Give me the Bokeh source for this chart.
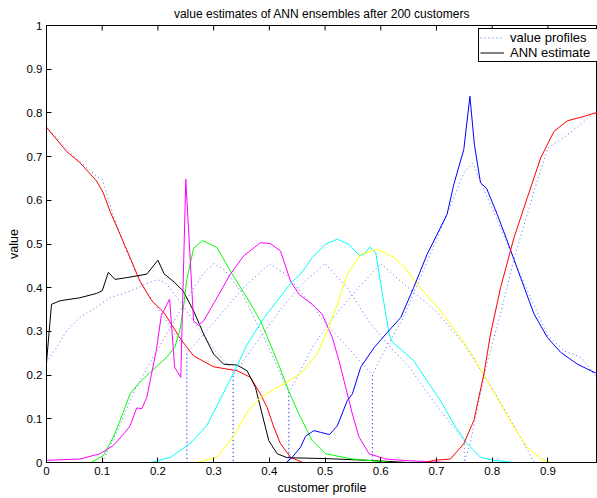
import math
from bokeh.plotting import figure
from bokeh.models import Range1d, FixedTicker, Legend, LegendItem, Title
from bokeh.embed import file_html
from bokeh.resources import INLINE

# ---------------- data ----------------
title_text = "value estimates of ANN ensembles after 200 customers"
x_label_text = "customer profile"
y_label_text = "value"
legend_labels = ["value profiles", "ANN estimate"]

x_ticks = [0, 0.1, 0.2, 0.3, 0.4, 0.5, 0.6, 0.7, 0.8, 0.9]
x_tick_labels = ["0", "0.1", "0.2", "0.3", "0.4", "0.5", "0.6", "0.7", "0.8", "0.9"]
y_ticks = [0, 0.1, 0.2, 0.3, 0.4, 0.5, 0.6, 0.7, 0.8, 0.9, 1.0]
y_tick_labels = ["0", "0.1", "0.2", "0.3", "0.4", "0.5", "0.6", "0.7", "0.8", "0.9", "1"]

# value profiles (dotted)
prof_red_x = [0, 0.05, 0.09, 0.1, 0.12, 0.141, 0.156, 0.17, 0.19, 0.21, 0.23, 0.252, 0.252, 0.99]
prof_red_y = [0.767, 0.7, 0.655, 0.648, 0.565, 0.492, 0.446, 0.41, 0.37, 0.335, 0.295, 0.256, 0, 0]
prof_black_x = [0, 0.018, 0.036, 0.06, 0.084, 0.114, 0.15, 0.18, 0.2, 0.215, 0.23, 0.25, 0.27, 0.3, 0.335, 0.335, 0.99]
prof_black_y = [0.229, 0.263, 0.301, 0.332, 0.351, 0.377, 0.392, 0.41, 0.418, 0.41, 0.385, 0.35, 0.31, 0.26, 0.21, 0, 0]
prof_green_x = [0, 0.1, 0.13, 0.16, 0.2, 0.25, 0.28, 0.3, 0.32, 0.35, 0.4, 0.435, 0.435, 0.99]
prof_green_y = [0, 0, 0.08, 0.17, 0.26, 0.37, 0.43, 0.455, 0.44, 0.39, 0.26, 0.16, 0, 0]
prof_magenta_x = [0, 0.252, 0.252, 0.3, 0.35, 0.4, 0.43, 0.47, 0.5, 0.55, 0.585, 0.585, 0.99]
prof_magenta_y = [0, 0, 0.25, 0.32, 0.395, 0.455, 0.43, 0.37, 0.32, 0.25, 0.2, 0, 0]
prof_cyan_x = [0, 0.335, 0.335, 0.38, 0.42, 0.46, 0.5, 0.54, 0.58, 0.62, 0.65, 0.7, 0.75, 0.75, 0.99]
prof_cyan_y = [0, 0, 0.2, 0.28, 0.35, 0.41, 0.455, 0.4, 0.32, 0.26, 0.22, 0.13, 0.05, 0, 0]
prof_yellow_x = [0, 0.435, 0.435, 0.48, 0.52, 0.56, 0.6, 0.64, 0.7, 0.75, 0.8, 0.85, 0.875, 0.99]
prof_yellow_y = [0, 0, 0.16, 0.27, 0.34, 0.4, 0.455, 0.41, 0.345, 0.27, 0.17, 0.06, 0, 0]
prof_blue_x = [0, 0.585, 0.585, 0.6, 0.64, 0.7, 0.75, 0.765, 0.78, 0.815, 0.845, 0.875, 0.9, 0.93, 0.96, 0.99]
prof_blue_y = [0, 0, 0.2, 0.24, 0.33, 0.51, 0.665, 0.685, 0.64, 0.537, 0.446, 0.36, 0.29, 0.255, 0.24, 0.19]
prof_red2_x = [0, 0.75, 0.76, 0.79, 0.815, 0.84, 0.875, 0.9, 0.935, 0.965, 0.99]
prof_red2_y = [0, 0, 0.04, 0.225, 0.34, 0.47, 0.62, 0.72, 0.75, 0.78, 0.808]

# ANN estimates (solid)
red_left_x = [0, 0.036, 0.06, 0.09, 0.102, 0.114, 0.132, 0.15, 0.168, 0.189, 0.211, 0.241, 0.264, 0.3, 0.342, 0.366, 0.384, 0.396, 0.408, 0.42, 0.438, 0.46, 0.99]
red_left_y = [0.767, 0.712, 0.686, 0.644, 0.617, 0.575, 0.522, 0.469, 0.414, 0.37, 0.343, 0.282, 0.244, 0.219, 0.21, 0.195, 0.157, 0.126, 0.081, 0.043, 0.012, 0.0, 0.0]
black_x = [0, 0.009, 0.024, 0.06, 0.09, 0.1, 0.111, 0.123, 0.144, 0.18, 0.2, 0.211, 0.23, 0.245, 0.264, 0.282, 0.3, 0.318, 0.342, 0.36, 0.375, 0.387, 0.399, 0.414, 0.432, 0.5, 0.576, 0.65, 0.99]
black_y = [0.229, 0.362, 0.37, 0.377, 0.387, 0.393, 0.435, 0.419, 0.423, 0.431, 0.463, 0.432, 0.412, 0.393, 0.347, 0.294, 0.248, 0.225, 0.223, 0.21, 0.172, 0.111, 0.05, 0.02, 0.011, 0.009, 0.005, 0.0, 0.0]
green_x = [0, 0.08, 0.102, 0.12, 0.132, 0.15, 0.162, 0.18, 0.197, 0.215, 0.23, 0.239, 0.245, 0.252, 0.264, 0.28, 0.306, 0.33, 0.36, 0.384, 0.414, 0.436, 0.453, 0.477, 0.501, 0.549, 0.62, 0.99]
green_y = [0, 0, 0.016, 0.058, 0.096, 0.157, 0.176, 0.199, 0.219, 0.24, 0.263, 0.30, 0.347, 0.42, 0.49, 0.508, 0.492, 0.438, 0.377, 0.324, 0.233, 0.16, 0.111, 0.05, 0.02, 0.008, 0, 0]
magenta_x = [0, 0.06, 0.096, 0.12, 0.141, 0.15, 0.162, 0.171, 0.18, 0.197, 0.206, 0.221, 0.23, 0.241, 0.25, 0.264, 0.273, 0.282, 0.306, 0.33, 0.354, 0.384, 0.402, 0.42, 0.438, 0.453, 0.477, 0.495, 0.513, 0.525, 0.537, 0.549, 0.561, 0.579, 0.609, 0.65, 0.72, 0.99]
magenta_y = [0.005, 0.008, 0.02, 0.039, 0.069, 0.084, 0.125, 0.123, 0.149, 0.256, 0.336, 0.374, 0.218, 0.195, 0.648, 0.324, 0.314, 0.324, 0.377, 0.431, 0.473, 0.503, 0.501, 0.484, 0.415, 0.385, 0.362, 0.339, 0.286, 0.233, 0.172, 0.111, 0.058, 0.02, 0.008, 0.004, 0, 0]
cyan_x = [0, 0.187, 0.223, 0.259, 0.288, 0.312, 0.336, 0.36, 0.39, 0.414, 0.438, 0.456, 0.477, 0.501, 0.522, 0.543, 0.561, 0.57, 0.58, 0.591, 0.603, 0.615, 0.621, 0.639, 0.659, 0.683, 0.707, 0.731, 0.755, 0.779, 0.803, 0.84, 0.99]
cyan_y = [0, 0, 0.012, 0.045, 0.085, 0.145, 0.205, 0.27, 0.33, 0.37, 0.41, 0.431, 0.469, 0.5, 0.511, 0.499, 0.474, 0.476, 0.493, 0.48, 0.385, 0.294, 0.275, 0.256, 0.233, 0.187, 0.142, 0.088, 0.043, 0.012, 0.005, 0, 0]
yellow_x = [0, 0.27, 0.306, 0.336, 0.36, 0.384, 0.426, 0.456, 0.486, 0.504, 0.522, 0.54, 0.564, 0.594, 0.624, 0.645, 0.671, 0.707, 0.743, 0.767, 0.791, 0.815, 0.839, 0.863, 0.887, 0.905, 0.99]
yellow_y = [0, 0, 0.012, 0.06, 0.115, 0.149, 0.18, 0.203, 0.248, 0.301, 0.362, 0.431, 0.476, 0.488, 0.469, 0.443, 0.4, 0.347, 0.286, 0.24, 0.187, 0.134, 0.081, 0.035, 0.008, 0, 0]
blue_x = [0, 0.43, 0.441, 0.456, 0.465, 0.48, 0.492, 0.508, 0.522, 0.54, 0.549, 0.564, 0.588, 0.612, 0.636, 0.659, 0.683, 0.707, 0.719, 0.731, 0.749, 0.76, 0.768, 0.779, 0.79, 0.809, 0.827, 0.851, 0.875, 0.899, 0.923, 0.953, 0.99]
blue_y = [0, 0, 0.012, 0.035, 0.06, 0.073, 0.069, 0.064, 0.084, 0.142, 0.157, 0.218, 0.263, 0.298, 0.332, 0.4, 0.476, 0.537, 0.568, 0.636, 0.716, 0.838, 0.728, 0.64, 0.627, 0.568, 0.507, 0.423, 0.34, 0.286, 0.252, 0.225, 0.202]
red_right_x = [0, 0.68, 0.695, 0.725, 0.749, 0.767, 0.785, 0.797, 0.815, 0.839, 0.863, 0.887, 0.911, 0.935, 0.965, 0.99]
red_right_y = [0, 0, 0.005, 0.008, 0.043, 0.096, 0.202, 0.294, 0.4, 0.514, 0.606, 0.697, 0.758, 0.782, 0.792, 0.802]

# ---------------- figure ----------------
FONT = "Liberation Sans"

p = figure(width=597, height=498, output_backend="svg", toolbar_location=None,
           x_range=Range1d(0, 0.989), y_range=Range1d(0, 1),
           min_border_left=46, min_border_right=0, min_border_top=24, min_border_bottom=36,
           background_fill_color="white", border_fill_color="white")
p.title = Title(text=title_text, align="center", offset=4, standoff=9,
                text_font=FONT, text_font_size="12px", text_font_style="normal",
                text_color="black")
p.outline_line_color = "black"
p.outline_line_width = 1
p.xgrid.visible = False
p.ygrid.visible = False

xa = p.xaxis[0]
xa.ticker = FixedTicker(ticks=x_ticks)
xa.major_label_overrides = {t: l for t, l in zip(x_ticks, x_tick_labels)}
xa.major_tick_in = 5
xa.major_tick_out = 0
xa.minor_tick_in = 0
xa.minor_tick_out = 0
xa.major_label_standoff = 4
xa.major_label_text_font = FONT
xa.major_label_text_font_size = "11.5px"
xa.major_label_text_color = "black"
xa.axis_line_color = "black"
xa.axis_label = x_label_text
xa.axis_label_standoff = 3
xa.axis_label_text_font = FONT
xa.axis_label_text_font_size = "12.5px"
xa.axis_label_text_font_style = "normal"
xa.axis_label_text_color = "black"

ya = p.yaxis[0]
ya.ticker = FixedTicker(ticks=y_ticks)
ya.major_label_overrides = {t: l for t, l in zip(y_ticks, y_tick_labels)}
ya.major_tick_in = 5
ya.major_tick_out = 0
ya.minor_tick_in = 0
ya.minor_tick_out = 0
ya.major_label_standoff = 4
ya.major_label_text_font = FONT
ya.major_label_text_font_size = "11.5px"
ya.major_label_text_color = "black"
ya.axis_label = y_label_text
ya.axis_label_standoff = 3
ya.axis_label_text_font = FONT
ya.axis_label_text_font_size = "12.5px"
ya.axis_label_text_font_style = "normal"
ya.axis_label_text_color = "black"

# inward ticks along the top edge of the box (MATLAB style)
p.ray(x=x_ticks, y=[1.0] * len(x_ticks), length=5, length_units="screen",
      angle=-math.pi / 2, line_color="black", line_width=1)

# dotted value profiles
dot_kw = dict(line_color="#0000ff", line_alpha=0.6, line_width=1, line_dash="1 3")
profiles = [(prof_red_x, prof_red_y), (prof_black_x, prof_black_y), (prof_green_x, prof_green_y),
            (prof_magenta_x, prof_magenta_y), (prof_cyan_x, prof_cyan_y), (prof_yellow_x, prof_yellow_y),
            (prof_blue_x, prof_blue_y), (prof_red2_x, prof_red2_y)]
prof_renderers = [p.line(px, py, **dot_kw) for px, py in profiles]

# ANN estimates
estimates = [(red_left_x, red_left_y, "#ff0000"), (black_x, black_y, "#000000"),
             (green_x, green_y, "#00ff00"), (magenta_x, magenta_y, "#ff00ff"),
             (cyan_x, cyan_y, "#00ffff"), (yellow_x, yellow_y, "#ffff00"),
             (blue_x, blue_y, "#0000ff"), (red_right_x, red_right_y, "#ff0000")]
est_renderers = [p.line(ex, ey, line_color=c, line_width=1) for ex, ey, c in estimates]

legend = Legend(items=[LegendItem(label=legend_labels[0], renderers=[prof_renderers[0]]),
                       LegendItem(label=legend_labels[1], renderers=[est_renderers[1]])],
                location=(432, 400), orientation="vertical",
                border_line_color="black", border_line_width=1, border_line_alpha=1,
                background_fill_color="white", background_fill_alpha=1,
                label_text_font=FONT, label_text_font_size="13px", label_text_color="black",
                label_text_line_height=1.0,
                label_height=13, glyph_height=13, glyph_width=24, label_standoff=6,
                label_width=86, padding=1, spacing=0, margin=0)
p.add_layout(legend, "center")

open("out.html", "w").write(file_html(p, INLINE))
